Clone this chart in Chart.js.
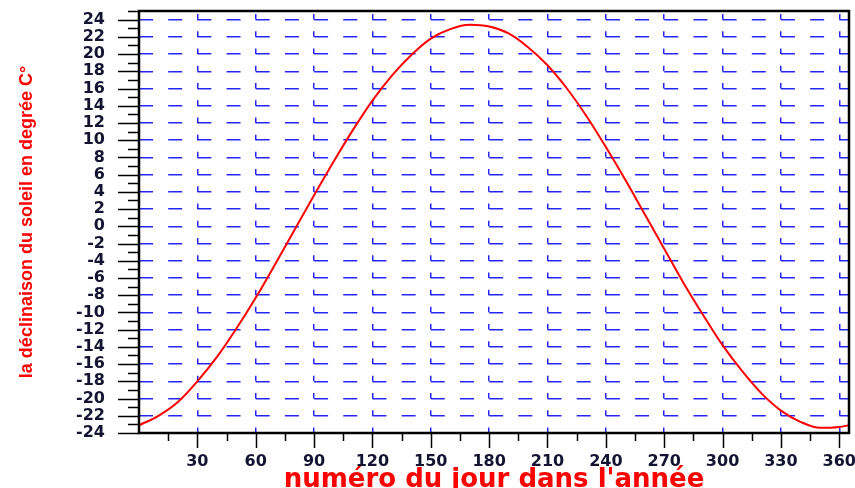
<!DOCTYPE html>
<html>
<head>
<meta charset="utf-8">
<script src="https://cdn.jsdelivr.net/npm/chart.js@4/dist/chart.umd.min.js"></script>
<style>
  body { margin: 0; background: #fff; }
  canvas { display: block; }
</style>
</head>
<body>
<canvas id="declChart" width="855" height="488"></canvas>
<script>
// Data (day of year -> solar declination)
const days = [0, 10, 20, 30, 40, 50, 60, 70, 80, 90, 100, 110, 120, 130, 140, 150, 160, 170, 180,
              190, 200, 210, 220, 230, 240, 250, 260, 270, 280, 290, 300, 310, 320, 330, 340, 350, 360, 365];
const declination = [-23.1, -22.0, -20.4, -18.0, -15.2, -11.9, -8.3, -4.4, -0.4, 3.6, 7.5, 11.2, 14.6, 17.5, 19.9, 21.8, 22.9, 23.4, 23.2,
                     22.4, 20.8, 18.7, 16.0, 12.8, 9.2, 5.4, 1.4, -2.6, -6.6, -10.3, -13.8, -16.8, -19.4, -21.4, -22.7, -23.4, -23.3, -23.1];
const xTicksLabelled = [30, 60, 90, 120, 150, 180, 210, 240, 270, 300, 330, 360];
const yTicksLabelled = [-24, -22, -20, -18, -16, -14, -12, -10, -8, -6, -4, -2, 0, 2, 4, 6, 8, 10, 12, 14, 16, 18, 20, 22, 24];
const xTitle = 'numéro du jour dans l\'année';
const yTitle = 'la déclinaison du soleil en degrée C°';

const gridBlue = 'rgba(0, 0, 240, 0.85)';
const tickColor = '#141432';
const tickFont = { family: 'DejaVu Sans', weight: 'bold', size: 16 };

// Tick marks and frame drawn on top of the chart
const axisPlugin = {
    id: 'axisTicks',
    afterDraw(chart) {
        const { ctx, chartArea: a, scales: { x, y } } = chart;
        ctx.save();
        ctx.strokeStyle = '#000';
        ctx.lineWidth = 1.5;
        ctx.beginPath();
        x.ticks.forEach(t => {
            if (t.value === 0) return;
            const px = Math.round(x.getPixelForValue(t.value)) + 0.5;
            const len = t.value % 30 === 0 ? 15 : 8;
            ctx.moveTo(px, a.bottom);
            ctx.lineTo(px, a.bottom + len);
        });
        y.ticks.forEach(t => {
            const py = Math.round(y.getPixelForValue(t.value)) + 0.5;
            const len = t.value % 2 === 0 ? 21 : 11;
            ctx.moveTo(a.left - len, py);
            ctx.lineTo(a.left, py);
        });
        ctx.stroke();
        ctx.lineWidth = 2.5;
        ctx.strokeRect(a.left, a.top, a.right - a.left, a.bottom - a.top);
        ctx.restore();
    }
};

const ctx = document.getElementById('declChart').getContext('2d');
new Chart(ctx, {
    type: 'line',
    data: {
        datasets: [{
            data: days.map((d, i) => ({ x: d, y: declination[i] })),
            borderColor: '#ff0000',
            borderWidth: 2,
            pointRadius: 0,
            fill: false,
            cubicInterpolationMode: 'monotone'
        }]
    },
    options: {
        responsive: false,
        animation: false,
        layout: { padding: { top: 11, right: 6, left: 0, bottom: 0 } },
        plugins: { legend: { display: false }, tooltip: { enabled: false } },
        scales: {
            x: {
                type: 'linear',
                min: 0,
                max: 365,
                afterFit(s) { s.height = 55; s.paddingLeft = 0; s.paddingRight = 0; },
                ticks: {
                    stepSize: 15,
                    includeBounds: false,
                    autoSkip: false,
                    maxRotation: 0,
                    padding: 19,
                    color: tickColor,
                    font: tickFont,
                    callback: v => xTicksLabelled.includes(v) ? String(v) : ''
                },
                grid: {
                    drawTicks: false,
                    lineWidth: 1.5,
                    color: c => (c.tick && xTicksLabelled.includes(c.tick.value)) ? gridBlue : 'transparent'
                },
                border: { display: false, dash: [5.5, 11.72], dashOffset: 14.11 },
                title: {
                    display: true,
                    text: xTitle,
                    color: '#ff0000',
                    font: { family: 'DejaVu Sans', weight: 'bold', size: 26, lineHeight: 0.6 },
                    padding: { top: 0, bottom: 0 }
                }
            },
            y: {
                min: -24,
                max: 25,
                afterFit(s) { s.width = 139; s.paddingTop = 0; s.paddingBottom = 0; },
                ticks: {
                    stepSize: 1,
                    autoSkip: false,
                    padding: 34,
                    color: tickColor,
                    font: tickFont,
                    callback: v => yTicksLabelled.includes(v) ? String(v) : ''
                },
                grid: {
                    drawTicks: false,
                    lineWidth: 1.5,
                    color: c => (c.tick && yTicksLabelled.includes(c.tick.value) && c.tick.value > -24) ? gridBlue : 'transparent'
                },
                border: { display: false, dash: [14, 15.18], dashOffset: 0 },
                title: {
                    display: true,
                    text: yTitle,
                    color: '#ff0000',
                    font: { family: "'Liberation Sans', Arial, sans-serif", weight: 'bold', size: 18 },
                    padding: { top: 16, bottom: 0 }
                }
            }
        }
    },
    plugins: [axisPlugin]
});
</script>
</body>
</html>
